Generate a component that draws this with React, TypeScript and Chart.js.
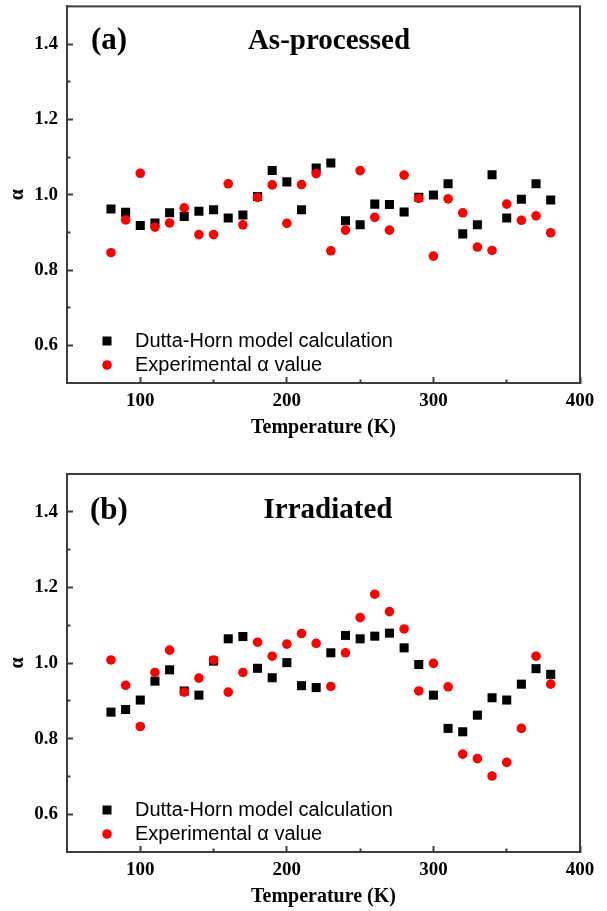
import React, { useEffect, useRef } from 'react';
import { Chart, registerables } from 'chart.js';

Chart.register(...registerables);

// ---------- data ----------
const temperatures = [80, 90, 100, 110, 120, 130, 140, 150, 160, 170, 180, 190, 200, 210, 220, 230, 240, 250, 260, 270, 280, 290, 300, 310, 320, 330, 340, 350, 360, 370, 380];

const xMajorTicks = [100, 200, 300, 400];
const xMinorTicks = [150, 250, 350];
const yMajorTicks = [0.6, 0.8, 1.0, 1.2, 1.4];
const yMinorTicks = [0.7, 0.9, 1.1, 1.3];

const seriesLabels = ['Dutta-Horn model calculation', 'Experimental α value'];

// (a) As-processed
const asDuttaHorn = [0.962, 0.953, 0.918, 0.925, 0.952, 0.942, 0.956, 0.960, 0.938, 0.946, 0.995, 1.064, 1.034, 0.960, 1.071, 1.084, 0.931, 0.920, 0.975, 0.974, 0.954, 0.993, 0.999, 1.029, 0.896, 0.920, 1.053, 0.938, 0.988, 1.029, 0.986];
const asExperimental = [0.846, 0.933, 1.057, 0.914, 0.925, 0.965, 0.894, 0.894, 1.029, 0.920, 0.993, 1.026, 0.924, 1.027, 1.056, 0.851, 0.906, 1.064, 0.940, 0.906, 1.052, 0.990, 0.837, 0.989, 0.952, 0.861, 0.852, 0.975, 0.932, 0.944, 0.899];

// (b) Irradiated
const irDuttaHorn = [0.870, 0.877, 0.902, 0.952, 0.982, 0.926, 0.915, 1.005, 1.064, 1.070, 0.986, 0.961, 1.001, 0.940, 0.935, 1.027, 1.073, 1.064, 1.071, 1.079, 1.040, 0.996, 0.915, 0.827, 0.818, 0.862, 0.908, 0.902, 0.944, 0.985, 0.970];
const irExperimental = [1.008, 0.941, 0.832, 0.975, 1.034, 0.923, 0.960, 1.008, 0.923, 0.975, 1.055, 1.018, 1.050, 1.078, 1.052, 0.938, 1.027, 1.120, 1.182, 1.136, 1.090, 0.926, 0.999, 0.937, 0.759, 0.747, 0.701, 0.737, 0.827, 1.018, 0.944];

// ---------- styling ----------
const SERIF = '"Liberation Serif", "Times New Roman", serif';
const SANS = '"Liberation Sans", Arial, sans-serif';
const FRAME = '#3c3c3c';

const framePlugin = {
  id: 'frame',
  afterDraw(chart: any) {
    const { ctx, chartArea: a } = chart;
    ctx.save();
    ctx.strokeStyle = FRAME;
    ctx.lineWidth = 2;
    ctx.strokeRect(a.left, a.top, a.right - a.left, a.bottom - a.top);
    ctx.restore();
  },
};

const panelTextPlugin = {
  id: 'panelText',
  afterDraw(chart: any, _args: any, opts: any) {
    const { ctx, chartArea: a } = chart;
    ctx.save();
    ctx.fillStyle = '#000';
    ctx.textBaseline = 'middle';
    ctx.font = `bold 31px ${SERIF}`;
    ctx.textAlign = 'left';
    ctx.fillText(opts.tag, a.left + opts.tagDx, a.top + opts.dy);
    ctx.font = `bold 29px ${SERIF}`;
    ctx.textAlign = 'center';
    ctx.fillText(opts.title, a.left + opts.titleDx, a.top + opts.dy);
    ctx.restore();
  },
};

const insideLegendPlugin = {
  id: 'insideLegend',
  afterDraw(chart: any, _args: any, opts: any) {
    const { ctx, chartArea: a } = chart;
    ctx.save();
    chart.data.datasets.forEach((ds: any, i: number) => {
      const y = a.bottom - opts.bottomOffset + i * opts.rowGap;
      const x = a.left + opts.markerDx;
      ctx.fillStyle = ds.backgroundColor;
      if (ds.pointStyle === 'rect') {
        const s = opts.squareSize;
        ctx.fillRect(x - s / 2, y - s / 2, s, s);
      } else {
        ctx.beginPath();
        ctx.arc(x, y, opts.circleRadius, 0, Math.PI * 2);
        ctx.fill();
      }
      ctx.fillStyle = '#000';
      ctx.font = `20px ${SANS}`;
      ctx.textAlign = 'left';
      ctx.textBaseline = 'middle';
      ctx.fillText(ds.label, a.left + opts.textDx, y);
    });
    ctx.restore();
  },
};

type PanelProps = {
  dutta: number[];
  experimental: number[];
  tag: string;
  title: string;
  top: number;
  height: number;
  padTop: number;
  xAxisHeight: number;
  xTitlePadBottom: number;
  tagDx: number;
  titleDx: number;
  textDy: number;
};

const tickFont = { family: SERIF, size: 19, weight: 'bold' as const };
const titleFont = { family: SERIF, size: 20, weight: 'bold' as const };

const noScalePadding = (s: any) => {
  s.paddingTop = 0;
  s.paddingBottom = 0;
  s.paddingLeft = 0;
  s.paddingRight = 0;
};

function Panel(p: PanelProps) {
  const ref = useRef<HTMLCanvasElement | null>(null);

  useEffect(() => {
    if (!ref.current) return;
    const chart = new Chart(ref.current, {
      type: 'scatter',
      data: {
        datasets: [
          {
            label: seriesLabels[0],
            data: temperatures.map((t, i) => ({ x: t, y: p.dutta[i] })),
            pointStyle: 'rect',
            pointRadius: 6.4,
            pointHoverRadius: 6.4,
            backgroundColor: '#000000',
            borderWidth: 0,
            order: 1,
          },
          {
            label: seriesLabels[1],
            data: temperatures.map((t, i) => ({ x: t, y: p.experimental[i] })),
            pointStyle: 'circle',
            pointRadius: 4.8,
            pointHoverRadius: 4.8,
            backgroundColor: '#ff0000',
            borderWidth: 0,
            order: 0,
          },
        ],
      },
      options: {
        responsive: false,
        maintainAspectRatio: false,
        animation: false,
        events: [],
        layout: { padding: { top: p.padTop, right: 27, left: 0, bottom: 0 } },
        scales: {
          x: {
            type: 'linear',
            position: 'bottom',
            min: 50,
            max: 400,
            weight: 1,
            afterBuildTicks: (s: any) => { s.ticks = xMajorTicks.map((v) => ({ value: v })); },
            afterFit: (s: any) => { s.height = p.xAxisHeight; noScalePadding(s); },
            grid: { drawOnChartArea: false, drawTicks: true, tickLength: -6, tickWidth: 2, tickColor: FRAME },
            border: { display: true, color: FRAME, width: 2 },
            ticks: { padding: 13, color: '#000', font: tickFont, maxRotation: 0, autoSkip: false },
            title: { display: true, text: 'Temperature (K)', color: '#000', font: titleFont, padding: { top: 0, bottom: p.xTitlePadBottom } },
          },
          xMinor: {
            type: 'linear',
            axis: 'x',
            position: 'bottom',
            min: 50,
            max: 400,
            weight: 0,
            afterBuildTicks: (s: any) => { s.ticks = xMinorTicks.map((v) => ({ value: v })); },
            afterFit: (s: any) => { s.height = 0; noScalePadding(s); },
            grid: { drawOnChartArea: false, drawTicks: true, tickLength: -3.5, tickWidth: 2, tickColor: FRAME },
            border: { display: false },
            ticks: { display: false },
          },
          y: {
            type: 'linear',
            position: 'left',
            min: 0.5,
            max: 1.5,
            weight: 1,
            afterBuildTicks: (s: any) => { s.ticks = yMajorTicks.map((v) => ({ value: v })); },
            afterFit: (s: any) => { s.width = 67; noScalePadding(s); },
            grid: { drawOnChartArea: false, drawTicks: true, tickLength: -6, tickWidth: 2, tickColor: FRAME },
            border: { display: true, color: FRAME, width: 2 },
            ticks: { padding: 15, color: '#000', font: tickFont, callback: (v: any) => Number(v).toFixed(1) },
            title: { display: true, text: 'α', color: '#000', font: titleFont, padding: { top: 6, bottom: 0 } },
          },
          yMinor: {
            type: 'linear',
            axis: 'y',
            position: 'left',
            min: 0.5,
            max: 1.5,
            weight: 0,
            afterBuildTicks: (s: any) => { s.ticks = yMinorTicks.map((v) => ({ value: v })); },
            afterFit: (s: any) => { s.width = 0; noScalePadding(s); },
            grid: { drawOnChartArea: false, drawTicks: true, tickLength: -3.5, tickWidth: 2, tickColor: FRAME },
            border: { display: false },
            ticks: { display: false },
          },
        },
        plugins: {
          legend: { display: false },
          tooltip: { enabled: false },
          panelText: { tag: p.tag, title: p.title, tagDx: p.tagDx, titleDx: p.titleDx, dy: p.textDy },
          insideLegend: { bottomOffset: 42, rowGap: 24, markerDx: 40, textDx: 68, squareSize: 9, circleRadius: 4.8 },
        } as any,
      },
      plugins: [framePlugin, panelTextPlugin, insideLegendPlugin],
    } as any);
    return () => chart.destroy();
  }, []);

  return (
    <canvas
      ref={ref}
      width={607}
      height={p.height}
      style={{ position: 'absolute', left: 0, top: p.top, width: 607, height: p.height, display: 'block' }}
    />
  );
}

export default function App() {
  return (
    <div style={{ position: 'absolute', left: 0, top: 0, width: 607, height: 911, background: '#ffffff', overflow: 'hidden' }}>
      <Panel
        dutta={asDuttaHorn}
        experimental={asExperimental}
        tag="(a)"
        title="As-processed"
        top={0}
        height={455}
        padTop={5}
        xAxisHeight={72}
        xTitlePadBottom={15}
        tagDx={24}
        titleDx={262}
        textDy={35}
      />
      <Panel
        dutta={irDuttaHorn}
        experimental={irExperimental}
        tag="(b)"
        title="Irradiated"
        top={455}
        height={456}
        padTop={19}
        xAxisHeight={59}
        xTitlePadBottom={2}
        tagDx={23}
        titleDx={261}
        textDy={37}
      />
    </div>
  );
}
